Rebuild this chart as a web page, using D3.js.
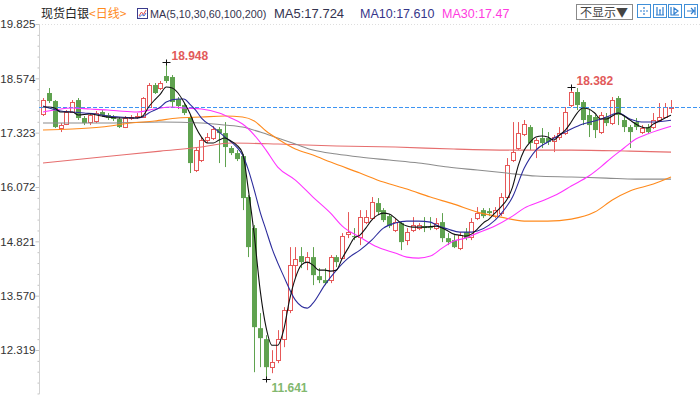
<!DOCTYPE html>
<html lang="zh">
<head>
  <meta charset="UTF-8" />
  <title>现货白银 日线</title>
  <script src="https://d3js.org/d3.v7.min.js"></script>
  <style>
    body {
      margin: 0;
      background: #ffffff;
    }

    svg {
      display: block;
      font-family: "Liberation Sans", Arial, sans-serif;
    }

    .cn {
      font-family: "Noto Sans CJK SC", sans-serif;
    }

    .axis line {
      stroke: #c4c4c4;
    }

    .axis text {
      fill: #333;
      font-size: 11.5px;
    }

    .ma-line {
      fill: none;
      stroke-width: 1.1;
    }
  </style>
</head>
<body>

  <div id="chart"></div>

  <script>
    // daily candles, oldest first
    const opens = [
      17.752, 18.236, 18.051, 17.429, 17.521, 17.798, 18.074, 17.660, 17.567, 17.591,
      17.798, 17.729, 17.683, 17.637, 17.452, 17.660, 17.683, 17.683, 17.913, 18.420,
      18.351, 18.627, 18.604, 18.097, 17.959, 17.683, 16.462, 16.692, 17.153, 17.199,
      17.406, 17.314, 16.969, 16.853, 16.784, 15.840, 15.126, 12.822, 12.569, 11.924,
      12.085, 12.569, 13.237, 14.273, 14.481, 14.343, 14.458, 14.020, 13.928, 13.928,
      14.458, 14.435, 14.987, 14.941, 14.918, 15.264, 15.356, 15.702, 15.540, 15.402,
      15.080, 15.241, 14.849, 15.080, 15.126, 15.172, 15.149, 15.126, 15.264, 14.895,
      14.849, 14.665, 15.034, 14.918, 15.356, 15.540, 15.517, 15.402, 15.471, 15.840,
      16.692, 16.969, 17.291, 17.452, 17.084, 17.199, 17.199, 17.130, 17.222, 17.314,
      17.959, 18.259, 18.028, 17.729, 17.683, 17.337, 17.683, 17.544, 18.120, 17.614,
      17.452, 17.567, 17.337, 17.452, 17.452, 17.614, 17.683, 17.890
    ];
    const highs = [
      18.120, 18.351, 18.074, 17.544, 17.844, 18.074, 18.120, 17.706, 17.775, 17.821,
      17.844, 17.775, 17.729, 17.683, 17.706, 17.729, 17.775, 18.143, 18.466, 18.466,
      18.512, 18.948, 18.650, 18.143, 18.005, 17.729, 16.969, 17.222, 17.314, 17.475,
      17.452, 17.567, 17.015, 16.922, 16.830, 15.886, 15.195, 13.168, 12.661, 12.315,
      12.776, 13.306, 14.688, 14.688, 14.688, 14.573, 14.688, 14.204, 14.204, 14.504,
      14.504, 15.010, 15.494, 15.126, 15.540, 15.540, 15.840, 15.817, 15.586, 15.448,
      15.356, 15.287, 15.126, 15.379, 15.241, 15.379, 15.379, 15.356, 15.471, 15.010,
      14.964, 15.034, 15.126, 15.356, 15.609, 15.586, 15.586, 15.609, 15.932, 16.738,
      17.567, 17.567, 17.614, 17.498, 17.199, 17.429, 17.337, 17.268, 17.452, 17.913,
      18.382, 18.351, 18.074, 17.844, 17.729, 17.798, 17.775, 18.143, 18.166, 17.729,
      17.498, 17.660, 17.498, 17.521, 17.775, 18.005, 18.005, 18.074
    ];
    const lows = [
      17.706, 18.005, 17.429, 17.337, 17.498, 17.775, 17.614, 17.498, 17.498, 17.544,
      17.683, 17.614, 17.591, 17.429, 17.429, 17.614, 17.637, 17.660, 17.890, 18.213,
      18.305, 18.466, 17.890, 17.867, 17.729, 16.393, 16.416, 16.646, 17.084, 17.153,
      16.623, 16.531, 16.807, 16.669, 15.540, 14.458, 11.808, 11.924, 11.641, 11.785,
      12.016, 12.384, 13.168, 13.997, 14.204, 14.158, 13.813, 13.859, 13.813, 13.859,
      14.227, 14.412, 14.895, 14.849, 14.734, 15.218, 15.310, 15.425, 15.264, 15.126,
      15.034, 14.619, 14.734, 15.034, 15.080, 15.034, 15.080, 15.080, 14.803, 14.734,
      14.665, 14.619, 14.849, 14.849, 15.310, 15.356, 15.402, 15.356, 15.402, 15.817,
      16.646, 16.922, 17.245, 16.922, 16.738, 16.969, 17.038, 16.876, 17.153, 17.268,
      17.913, 17.844, 17.498, 17.222, 17.199, 17.291, 17.475, 17.498, 17.498, 17.337,
      16.969, 17.383, 17.291, 17.291, 17.406, 17.567, 17.660, 17.775
    ];
    const closes = [
      18.074, 18.051, 17.452, 17.498, 17.798, 18.028, 17.660, 17.544, 17.729, 17.775,
      17.729, 17.660, 17.637, 17.452, 17.660, 17.683, 17.706, 18.120, 18.420, 18.236,
      18.466, 18.512, 18.028, 17.936, 17.775, 16.623, 16.922, 17.153, 17.222, 17.406,
      17.314, 16.992, 16.853, 16.715, 15.817, 14.688, 12.845, 12.592, 11.924, 12.039,
      12.569, 13.237, 14.273, 14.412, 14.343, 14.458, 14.043, 13.928, 13.859, 14.458,
      14.343, 14.941, 15.034, 14.918, 15.379, 15.379, 15.725, 15.494, 15.310, 15.172,
      15.264, 14.803, 15.034, 15.195, 15.195, 15.126, 15.126, 15.241, 14.895, 14.803,
      14.688, 14.964, 14.895, 15.264, 15.471, 15.402, 15.471, 15.540, 15.840, 16.577,
      16.876, 17.314, 17.521, 17.084, 17.153, 17.084, 17.107, 17.222, 17.314, 17.798,
      18.259, 17.959, 17.614, 17.498, 17.383, 17.729, 17.544, 18.074, 17.729, 17.452,
      17.337, 17.452, 17.429, 17.337, 17.614, 17.683, 17.913, 17.913
    ];

    // moving averages: [candle index, value]
    const ma5 = [
      [0, 17.913], [1, 17.913], [2, 17.890], [3, 17.798], [5, 17.798], [6, 17.729], [8, 17.752],
      [10, 17.706], [11, 17.683], [13, 17.660], [16, 17.660], [17, 17.706], [18, 17.913], [19, 18.074],
      [20, 18.213], [21, 18.374], [22, 18.351], [23, 18.236], [24, 18.028], [25, 17.775], [26, 17.452],
      [27, 17.222], [28, 17.084], [29, 17.084], [30, 17.153], [31, 17.199], [32, 17.130], [33, 17.038],
      [34, 16.853], [35, 16.001], [36, 14.964], [37, 13.697], [38, 12.845], [39, 12.430], [40, 12.430],
      [41, 12.776], [42, 13.467], [43, 13.974], [44, 14.273], [45, 14.343], [46, 14.273], [47, 14.158],
      [48, 14.158], [49, 14.135], [50, 14.158], [51, 14.435], [52, 14.665], [53, 14.895], [54, 14.964],
      [55, 15.126], [56, 15.310], [57, 15.425], [58, 15.471], [59, 15.448], [60, 15.356], [61, 15.241],
      [62, 15.172], [63, 15.149], [65, 15.149], [67, 15.172], [68, 15.126], [69, 15.057], [70, 14.987],
      [71, 14.964], [72, 14.941], [73, 14.987], [74, 15.103], [75, 15.241], [76, 15.333], [77, 15.471],
      [78, 15.609], [79, 15.771], [80, 16.070], [81, 16.577], [82, 16.922], [83, 17.107], [84, 17.222],
      [85, 17.245], [86, 17.222], [87, 17.153], [88, 17.268], [89, 17.383], [90, 17.568], [91, 17.775],
      [92, 17.890], [93, 17.867], [94, 17.775], [95, 17.637], [96, 17.637], [97, 17.706], [98, 17.775],
      [99, 17.706], [100, 17.614], [101, 17.521], [102, 17.452], [103, 17.429], [104, 17.521],
      [105, 17.591], [106, 17.660], [107, 17.724]
    ];
    const ma10 = [
      [0, 17.936], [1, 17.890], [3, 17.821], [5, 17.798], [7, 17.775], [9, 17.752], [11, 17.706],
      [13, 17.683], [16, 17.660], [17, 17.683], [18, 17.775], [20, 17.913], [21, 18.028], [23, 18.097],
      [24, 18.097], [25, 17.982], [26, 17.844], [27, 17.660], [29, 17.452], [31, 17.222], [33, 16.992],
      [34, 16.807], [35, 16.462], [36, 16.001], [37, 15.494], [38, 15.080], [39, 14.665], [41, 14.020],
      [43, 13.467], [45, 13.283], [46, 13.398], [48, 13.813], [50, 14.158], [52, 14.435], [54, 14.619],
      [56, 14.849], [58, 15.126], [60, 15.241], [62, 15.287], [64, 15.287], [66, 15.264], [67, 15.195],
      [69, 15.103], [71, 15.034], [73, 15.034], [74, 15.057], [76, 15.195], [78, 15.448], [80, 15.840],
      [82, 16.508], [84, 16.922], [86, 17.107], [88, 17.268], [90, 17.406], [92, 17.521], [94, 17.591],
      [96, 17.683], [98, 17.775], [100, 17.637], [102, 17.568], [104, 17.568], [107, 17.610]
    ];
    const ma30 = [
      [0, 17.798], [2, 17.844], [5, 17.890], [8, 17.867], [11, 17.844], [13, 17.821], [16, 17.798],
      [19, 17.867], [22, 17.913], [24, 17.890], [27, 17.867], [30, 17.775], [32, 17.660], [34, 17.521],
      [36, 17.268], [38, 16.922], [40, 16.531], [43, 16.231], [46, 15.840], [49, 15.471], [51, 15.172],
      [54, 14.918], [57, 14.688], [60, 14.550], [62, 14.458], [64, 14.435], [66, 14.481], [68, 14.665],
      [70, 14.826], [72, 14.895], [74, 15.010], [77, 15.172], [80, 15.402], [82, 15.586], [85, 15.748],
      [88, 15.932], [90, 16.093], [93, 16.324], [95, 16.531], [97, 16.761], [99, 16.969], [101, 17.176],
      [103, 17.291], [107, 17.470]
    ];
    const ma60 = [
      [0, 17.383], [5, 17.406], [10, 17.452], [15, 17.544], [19, 17.591], [23, 17.660], [27, 17.683],
      [31, 17.706], [34, 17.683], [36, 17.591], [38, 17.360], [40, 17.176], [43, 16.946], [46, 16.807],
      [49, 16.646], [54, 16.393], [58, 16.185], [62, 16.024], [66, 15.840], [70, 15.678], [74, 15.494],
      [78, 15.379], [82, 15.287], [86, 15.287], [90, 15.333], [94, 15.494], [97, 15.771], [100, 15.978],
      [104, 16.139], [107, 16.301]
    ];
    const ma100 = [
      [0, 17.544], [10, 17.544], [20, 17.568], [27, 17.544], [31, 17.498], [34, 17.452], [37, 17.337],
      [40, 17.199], [43, 17.061], [46, 16.922], [50, 16.830], [54, 16.761], [59, 16.692], [64, 16.623],
      [69, 16.531], [74, 16.462], [79, 16.393], [84, 16.324], [90, 16.301], [96, 16.277], [101, 16.254],
      [107, 16.254]
    ];
    const ma200 = [
      [0, 16.623], [10, 16.761], [20, 16.899], [27, 16.992], [32, 17.084], [40, 17.061], [50, 17.015],
      [60, 16.992], [70, 16.946], [80, 16.922], [90, 16.922], [100, 16.899], [107, 16.876]
    ];

    const yTicks = [19.825, 18.574, 17.323, 16.072, 14.821, 13.570, 12.319];
    const lastPrice = 17.913;
    const highMarks = [[21, 18.948], [90, 18.382]];
    const lowMarks = [[38, 11.641]];

    const maHeader = [
      { label: "MA5:17.724", color: "#33334f", x: 274, size: 13 },
      { label: "MA10:17.610", color: "#35358a", x: 360, size: 12.5 },
      { label: "MA30:17.47", color: "#ff3be0", x: 442, size: 12.5 }
    ];

    const UP = "#e65858";
    const DOWN = "#5fa24f";

    function drawChart() {
      const svg = d3.select("#chart")
        .append("svg")
        .attr("width", 700)
        .attr("height", 399);

      const x = d3.scaleLinear().domain([0, closes.length - 1]).range([43, 671]);
      const y = d3.scaleLinear().domain([yTicks[yTicks.length - 1], yTicks[0]]).range([350, 24]);

      drawHeader(svg);
      drawAxis(svg, y);
      drawCandles(svg, x, y);
      drawPriceLine(svg, y);
      drawAverages(svg, x, y);
      drawMarks(svg, x, y);
    }

    function drawHeader(svg) {
      const head = svg.append("g");

      head.append("text").attr("class", "cn")
        .attr("x", 41).attr("y", 18)
        .attr("font-size", 12).attr("fill", "#222")
        .text("现货白银");

      head.append("text").attr("class", "cn")
        .attr("x", 89).attr("y", 18)
        .attr("font-size", 12).attr("fill", "#ff8a1c")
        .text("<日线>");

      // little chart icon
      const ic = head.append("g").attr("transform", "translate(137,8)");
      ic.append("rect").attr("x", 0.5).attr("y", 0.5).attr("width", 10).attr("height", 10)
        .attr("fill", "#fff").attr("stroke", "#3a3a8c");
      ic.append("path").attr("d", "M2,8 L4.5,4 L6.5,6.5 L9,2").attr("fill", "none")
        .attr("stroke", "#e04a4a").attr("stroke-width", 1);
      ic.append("path").attr("d", "M2,9.5 L5,6.5 L7,8 L9,5").attr("fill", "none")
        .attr("stroke", "#3a6ad8").attr("stroke-width", 1);

      head.append("text")
        .attr("x", 150).attr("y", 18)
        .attr("font-size", 10.8).attr("fill", "#33334f")
        .text("MA(5,10,30,60,100,200)");

      head.selectAll(".ma-head")
        .data(maHeader)
        .enter()
        .append("text")
        .attr("class", "ma-head")
        .attr("x", d => d.x).attr("y", 18)
        .attr("font-size", d => d.size).attr("fill", d => d.color)
        .text(d => d.label);

      // right hand buttons
      head.append("rect").attr("x", 576.5).attr("y", 4.5).attr("width", 56).attr("height", 15)
        .attr("fill", "#fff").attr("stroke", "#8a8a8a");
      head.append("text").attr("class", "cn")
        .attr("x", 580).attr("y", 17)
        .attr("font-size", 12).attr("fill", "#444")
        .text("不显示▼");

      const icons = [637, 653, 668, 684];
      icons.forEach((ix, k) => {
        const b = head.append("g").attr("transform", `translate(${ix},4)`);
        b.append("rect").attr("x", 0.5).attr("y", 0.5).attr("width", 13).attr("height", 13)
          .attr("fill", "#fff").attr("stroke", "#3f8fd8");
        let d;
        if (k === 0) d = "M7,3 V5 M7,9 V11 M3,7 H5 M9,7 H11 M6,7 H8";
        if (k === 1) d = "M3,11 H11 M4,3 V11 M10,3 V11 M6,6 H8 M7,6 V11";
        if (k === 2) d = "M3,3 V11 H11 M6,4 L10,7 L6,10 Z";
        if (k === 3) d = "M3,7 H9 M7,4 L10,7 L7,10 M11,3 V11";
        b.append("path").attr("d", d).attr("fill", "none")
          .attr("stroke", "#2f7fd0").attr("stroke-width", 1.2);
      });

      // dotted top border of the plot
      svg.append("line")
        .attr("x1", 39).attr("x2", 700).attr("y1", 24.5).attr("y2", 24.5)
        .attr("stroke", "#dedede").attr("stroke-dasharray", "1,2");
    }

    function drawAxis(svg, y) {
      const axis = svg.append("g")
        .attr("class", "axis")
        .attr("transform", "translate(39.5,0)")
        .call(d3.axisLeft(y).tickValues(yTicks).tickFormat(d3.format(".3f")).tickSize(4).tickPadding(0));
      axis.select(".domain").remove();

      const step = (yTicks[0] - yTicks[1]) / 5;
      const minor = d3.range(1, 40)
        .map(k => yTicks[0] - k * step)
        .filter((v, k) => (k + 1) % 5 !== 0 && y(v) < 394);

      const minorAxis = svg.append("g")
        .attr("class", "axis")
        .attr("transform", "translate(39.5,0)")
        .call(d3.axisLeft(y).tickValues(minor).tickFormat("").tickSize(2));
      minorAxis.select(".domain").remove();

      svg.append("line")
        .attr("x1", 39.5).attr("x2", 39.5).attr("y1", 24).attr("y2", 394)
        .attr("stroke", "#d2d2d2");
    }

    function drawCandles(svg, x, y) {
      const candles = closes.map((c, i) => ({ i, o: opens[i], h: highs[i], l: lows[i], c }));

      const g = svg.selectAll(".candle")
        .data(candles)
        .enter()
        .append("g")
        .attr("class", "candle");

      g.each(function (d) {
        const sel = d3.select(this);
        const cx = Math.round(x(d.i)) + 0.5;
        const top = y(Math.max(d.o, d.c));
        const bot = y(Math.min(d.o, d.c));
        const up = d.c >= d.o;
        const col = up ? UP : DOWN;

        if (up) {
          sel.append("line").attr("x1", cx).attr("x2", cx)
            .attr("y1", y(d.h)).attr("y2", top).attr("stroke", col);
          sel.append("line").attr("x1", cx).attr("x2", cx)
            .attr("y1", bot).attr("y2", y(d.l)).attr("stroke", col);
          sel.append("rect")
            .attr("x", cx - 2).attr("y", Math.round(top) + 0.5)
            .attr("width", 4).attr("height", Math.max(1, Math.round(bot - top)))
            .attr("fill", "#fff").attr("stroke", col);
        } else {
          sel.append("line").attr("x1", cx).attr("x2", cx)
            .attr("y1", y(d.h)).attr("y2", y(d.l)).attr("stroke", col);
          sel.append("rect")
            .attr("x", cx - 2.5).attr("y", top)
            .attr("width", 5).attr("height", Math.max(1, bot - top))
            .attr("fill", col);
        }
      });
    }

    function drawPriceLine(svg, y) {
      const py = Math.round(y(lastPrice)) + 0.5;
      svg.append("line")
        .attr("x1", 39).attr("x2", 700)
        .attr("y1", py).attr("y2", py)
        .attr("stroke", "#3d94f2").attr("stroke-width", 1).attr("stroke-dasharray", "4,2");
    }

    function drawAverages(svg, x, y) {
      const series = [
        { data: ma200, color: "#e66e6e" },
        { data: ma100, color: "#8c8c8c" },
        { data: ma60, color: "#ff8a1c" },
        { data: ma30, color: "#ff33ff" },
        { data: ma10, color: "#2c2c9c" },
        { data: ma5, color: "#111111" }
      ];

      const line = d3.line()
        .x(d => x(d[0]))
        .y(d => y(d[1]))
        .curve(d3.curveMonotoneX);

      series.forEach(s => {
        svg.append("path")
          .datum(s.data)
          .attr("class", "ma-line")
          .attr("stroke", s.color)
          .attr("d", line);
      });
    }

    function drawMarks(svg, x, y) {
      const fmt = d3.format(".3f");
      const marks = highMarks.map(m => ({ m, up: true })).concat(lowMarks.map(m => ({ m, up: false })));

      marks.forEach(({ m, up }) => {
        const px = Math.round(x(m[0])) + 0.5;
        const py = Math.round(y(m[1])) + 0.5;
        svg.append("path")
          .attr("d", `M${px - 4},${py} H${px + 4} M${px},${py - 3} V${py + 3}`)
          .attr("stroke", "#111").attr("stroke-width", 1);
        svg.append("text")
          .attr("x", px + 5)
          .attr("y", up ? py - 3 : py + 12)
          .attr("font-size", 12).attr("font-weight", "bold")
          .attr("fill", up ? "#e25a5a" : "#82b86e")
          .text(fmt(m[1]));
      });
    }

    drawChart();
  </script>

</body>
</html>
